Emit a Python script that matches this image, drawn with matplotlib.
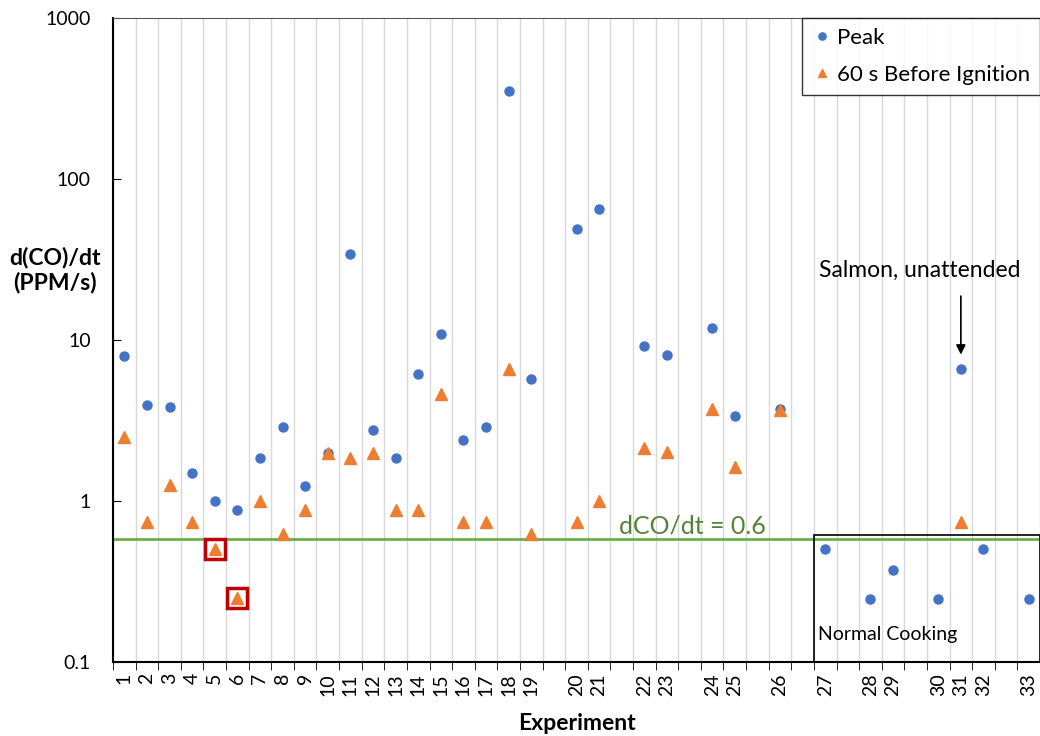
import numpy as np
import matplotlib
matplotlib.use("Agg")
import matplotlib.pyplot as plt
from matplotlib.patches import Rectangle
from matplotlib.ticker import FixedLocator, NullLocator

plt.rcParams['font.family'] = ['Lato', 'DejaVu Sans']

# category slots along x (blank slots are empty columns in the chart)
categories = ['1', '2', '3', '4', '5', '6', '7', '8', '9', '10', '11', '12', '13',
              '14', '15', '16', '17', '18', '19', '', '20', '21', '', '22', '23', '',
              '24', '25', '', '26', '', '27', '', '28', '29', '', '30', '31', '32',
              '', '33']

experiments = list(range(1, 34))
peak = [8.0, 3.95, 3.85, 1.5, 1.0, 0.88, 1.85, 2.88, 1.24, 2.0, 34.2, 2.76, 1.85,
        6.15, 10.9, 2.39, 2.88, 352, 5.73, 48.9, 65.1, 9.18, 8.05, 11.8, 3.37,
        3.73, 0.5, 0.246, 0.373, 0.246, 6.6, 0.5, 0.246]
before_ign = [2.5, 0.74, 1.26, 0.74, 0.5, 0.25, 1.0, 0.62, 0.88, 2.0, 1.85, 2.0,
              0.88, 0.88, 4.62, 0.74, 0.74, 6.6, 0.62, 0.74, 1.0, 2.12, 2.02, 3.73,
              1.63, 3.68, None, None, None, None, 0.74, None, None]
highlighted = [5, 6]
threshold = 0.58
normal_cooking_top = 0.615
salmon_exp = 31

pos = [categories.index(str(e)) for e in experiments]
bi_pos = [p for p, v in zip(pos, before_ign) if v is not None]
bi_val = [v for v in before_ign if v is not None]

fig = plt.figure(figsize=(10.4, 7.36), dpi=100)
ax = fig.add_axes([113 / 1040, 1 - 662 / 736, 1 - 113 / 1040, (662 - 18) / 736])

ax.set_yscale('log')
ax.set_ylim(0.1, 1000)
ax.set_xlim(-0.5, len(categories) - 0.5)

# gridlines at slot boundaries
bounds = np.arange(len(categories) + 1) - 0.5
ax.xaxis.set_major_locator(FixedLocator(range(len(categories))))
ax.set_xticklabels(categories, rotation=90, fontsize=14)
ax.xaxis.set_minor_locator(FixedLocator(bounds))
ax.tick_params(axis='x', which='major', length=0, pad=8)
ax.tick_params(axis='x', which='minor', length=6, direction='out', color='black')
ax.grid(True, axis='x', which='minor', color='#d9d9d9', lw=1)
ax.set_axisbelow(True)

yt = [0.1, 1, 10, 100, 1000]
ax.yaxis.set_major_locator(FixedLocator(yt))
ax.yaxis.set_minor_locator(NullLocator())
ax.set_yticklabels(['0.1', '1', '10', '100', '1000'], fontsize=14)
ax.tick_params(axis='y', which='major', length=6, direction='in', pad=16)

for s in ['left', 'bottom']:
    ax.spines[s].set_color('black')
    ax.spines[s].set_linewidth(1.5)
ax.spines['top'].set_color('#595959')
ax.spines['right'].set_visible(False)

ax.axhline(threshold, color='#70ad47', lw=2, zorder=2)
ax.text(21.9, threshold * 1.02, 'dCO/dt = 0.6', color='#548235', fontsize=18,
        va='bottom', ha='left')

ax.plot(pos, peak, 'o', color='#4472c4', ms=6.5, label='Peak', zorder=4)
ax.plot(bi_pos, bi_val, '^', color='#ed7d31', ms=8, label='60 s Before Ignition', zorder=5)

hl_pos = [categories.index(str(e)) for e in highlighted]
hl_val = [before_ign[e - 1] for e in highlighted]
ax.plot(hl_pos, hl_val, 's', mfc='none', mec='#c00000', mew=2.5, ms=14, zorder=6)

start = categories.index('27') - 0.5
ax.add_patch(Rectangle((start, 0.1), len(categories) - 0.5 - start, normal_cooking_top - 0.1,
                       fill=False, ec='black', lw=1.2, zorder=3))
ax.text(start + 0.2, 0.149, 'Normal Cooking', fontsize=14, va='center', ha='left')

sx = categories.index(str(salmon_exp))
ax.annotate('', xy=(sx, 7.8), xytext=(sx, 19.5),
            arrowprops=dict(arrowstyle='-|>', color='black', lw=1.2, mutation_scale=14))
ax.text(35.2, 27, 'Salmon, unattended', fontsize=16.5, ha='center', va='center')

leg = ax.legend(loc='upper right', bbox_to_anchor=(1.0, 1.0), borderaxespad=0,
                fontsize=16, frameon=True, fancybox=False, handletextpad=0.2,
                handlelength=0.9, labelspacing=0.75, borderpad=0.45,
                markerscale=0.8)
leg.get_frame().set_edgecolor('black')
leg.get_frame().set_linewidth(1.0)

ax.set_xlabel('Experiment', fontsize=16.5, fontweight='bold', labelpad=12)
fig.text(55 / 1040, 1 - 270 / 736, 'd(CO)/dt\n(PPM/s)', fontsize=16.5, fontweight='bold',
         ha='center', va='center', multialignment='center')

fig.savefig('out.png', dpi=100)
